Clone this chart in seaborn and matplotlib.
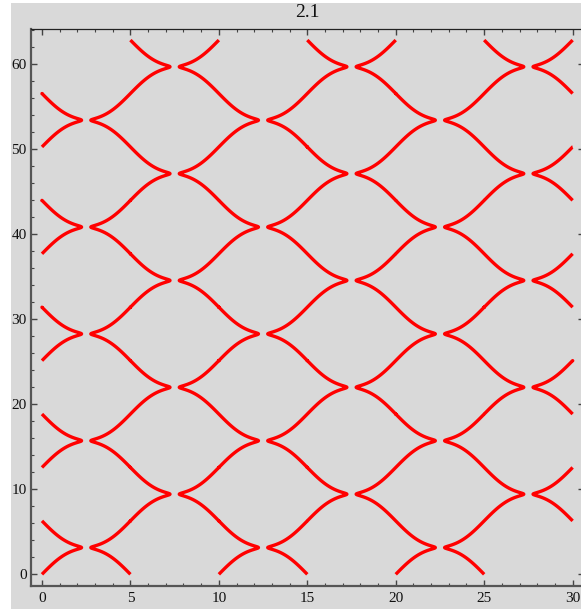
import numpy as np
import matplotlib
matplotlib.use("Agg")
import matplotlib.pyplot as plt
from matplotlib.patches import Rectangle
import seaborn as sns

# Plot parameters
title_text = "2.1"
x_limits = [0.0, 30.0]            # sampled x range
y_limits = [0.0, 20 * np.pi]      # sampled y range
x_period = [5.0]                  # half-period of the x modulation
wave_amp = [0.68]                 # amplitude of the sine term in g(u)
gap_eps = [1.5e-3]                # small level shift that opens the crossings
x_ticks = [0, 5, 10, 15, 20, 25, 30]
y_ticks = [0, 10, 20, 30, 40, 50, 60]
x_view = [-0.62, 30.62]
y_view = [-1.34, 64.1]

bg = "#d9d9d9"
line_red = "#ff0000"
frame_grey = "#555555"

sns.set_theme(style="ticks")
plt.rcParams["font.family"] = ["Liberation Serif", "DejaVu Serif"]

fig = plt.figure(figsize=(5.81, 6.10), dpi=100)
fig.patch.set_facecolor("white")
fig.patches.append(Rectangle((11 / 581, 1 / 610), 1.0, 606 / 610,
                             transform=fig.transFigure, facecolor=bg,
                             edgecolor="none", zorder=-10))

ax = fig.add_axes([31 / 581, 24.3 / 610, 552.6 / 581, 556.4 / 610])
ax.set_facecolor(bg)

# implicit curve  (1-eps) sin(y/2) = sin(g(u)/2),  g(u) = u + a sin u
xs = np.linspace(x_limits[0], x_limits[1], 1801)
ys = np.linspace(y_limits[0], y_limits[1], 3001)
X, Y = np.meshgrid(xs, ys)
U = 2 * np.pi * X / x_period[0]
G = U + wave_amp[0] * np.sin(U)
F = (1 - gap_eps[0]) * np.sin(Y / 2) - np.sin(G / 2)
ax.contour(X, Y, F, levels=[0.0], colors=[line_red], linewidths=2.4)

ax.set_xlim(*x_view)
ax.set_ylim(*y_view)
ax.set_xticks(x_ticks)
ax.set_yticks(y_ticks)
ax.set_xticks(np.arange(0, 31, 1), minor=True)
ax.set_yticks(np.arange(0, 65, 2), minor=True)

ax.tick_params(which="both", direction="in", top=True, right=True,
               colors="#444444", labelcolor="#111111", labelsize=11)
ax.tick_params(which="major", length=4.5, width=1.0)
ax.tick_params(which="minor", length=2.5, width=0.8)
ax.tick_params(axis="x", pad=4.2)
ax.tick_params(axis="y", pad=3.1)

for side in ["left", "bottom"]:
    ax.spines[side].set_color(frame_grey)
    ax.spines[side].set_linewidth(1.6)
for side in ["top", "right"]:
    ax.spines[side].set_color("#222222")
    ax.spines[side].set_linewidth(0.9)

ax.set_title(title_text, fontsize=14, color="#111111", pad=8.6)

fig.savefig("out.png", dpi=100, facecolor=fig.get_facecolor())
